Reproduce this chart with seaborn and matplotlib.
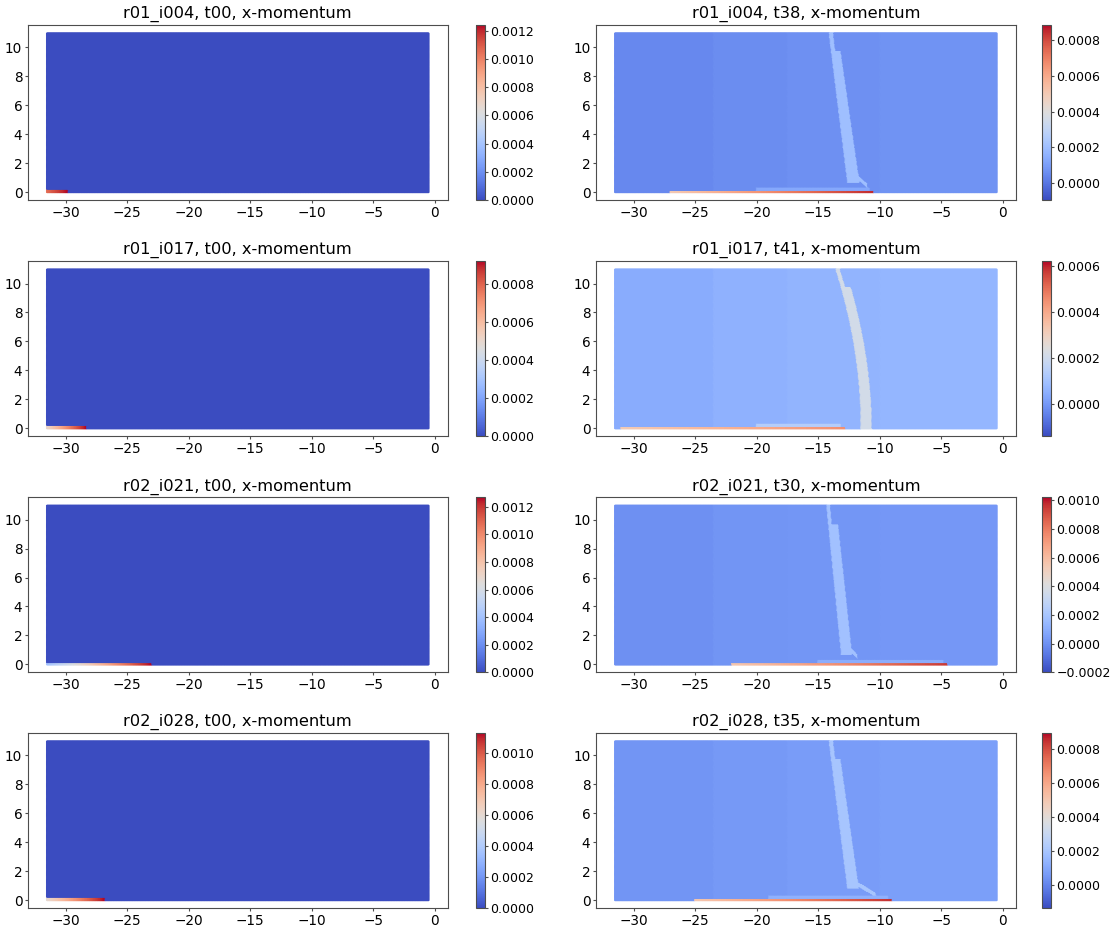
import numpy as np
import pandas as pd
import matplotlib
matplotlib.use("Agg")
import matplotlib.pyplot as plt
import seaborn as sns
from matplotlib.colors import Normalize
from matplotlib.cm import ScalarMappable
from matplotlib.ticker import MultipleLocator, FuncFormatter

sns.set_theme(style="ticks", context="paper",
              rc={"axes.edgecolor": "0.3", "xtick.color": "0.3", "ytick.color": "0.3",
                  "xtick.labelcolor": "black", "ytick.labelcolor": "black",
                  "xtick.major.size": 2.5, "ytick.major.size": 2.5,
                  "xtick.major.pad": 1.6, "ytick.major.pad": 1.6,
                  "xtick.major.width": 0.8, "ytick.major.width": 0.8,
                  "axes.linewidth": 0.8, "axes.titlecolor": "black"})
plt.rcParams['font.family'] = ['DejaVu Sans']

# ---------------- data ----------------
titles = ["r01_i004, t00, x-momentum", "r01_i004, t38, x-momentum",
          "r01_i017, t00, x-momentum", "r01_i017, t41, x-momentum",
          "r02_i021, t00, x-momentum", "r02_i021, t30, x-momentum",
          "r02_i028, t00, x-momentum", "r02_i028, t35, x-momentum"]
vmins = [0.0, -0.000095, 0.0, -0.000138, 0.0, -0.0002, 0.0, -0.000135]
vmaxs = [0.00124, 0.000884, 0.00092, 0.00062, 0.00127, 0.00102, 0.00113, 0.000894]

# domain
x_left, x_right = -31.5, -0.5
y_bottom, y_top = 0.0, 11.0

# background value zones (x edges) per panel
zone_edges = [-31.5, -23.5, -17.5, -10.0, -0.5]
bg_values = [
    [0.0, 0.0, 0.0, 0.0],
    [0.000045, 0.000055, 0.000065, 0.000070],
    [0.0, 0.0, 0.0, 0.0],
    [0.000045, 0.000055, 0.000062, 0.000068],
    [0.0, 0.0, 0.0, 0.0],
    [0.000000, 0.000010, 0.000018, 0.000022],
    [0.0, 0.0, 0.0, 0.0],
    [0.000045, 0.000055, 0.000065, 0.000070],
]

# plume (descending light band) per panel; None where absent
plume_top_left = [None, -14.1, None, -13.55, None, -14.3, None, -14.1]
plume_bot_left = [None, -12.6, None, -11.5, None, -13.1, None, -12.6]
plume_top_w = [None, 0.75, None, 0.8, None, 0.8, None, 0.75]
plume_bot_w = [None, 1.0, None, 0.9, None, 0.9, None, 0.95]
plume_bot_y = [None, 0.7, None, 0.0, None, 0.7, None, 0.85]
plume_curv = [None, 1.0, None, 2.0, None, 1.0, None, 1.0]
plume_hook_y = [None, 9.8, None, 9.8, None, 9.7, None, 9.8]
plume_strand_w = [None, 0.35, None, 0.35, None, 0.3, None, 0.35]
plume_val = [None, 0.00020, None, 0.00021, None, 0.00018, None, 0.00020]
plume_foot_x = [None, -11.0, None, None, None, -11.8, None, -10.3]
plume_foot_y = [None, 0.5, None, None, None, 0.6, None, 0.4]

# bottom gravity current per panel
cur_x0 = [-31.5, -27.0, -31.5, -31.0, -31.5, -22.0, -31.5, -25.0]
cur_x1 = [-29.8, -10.5, -28.3, -12.8, -23.0, -4.5, -26.8, -9.0]
cur_v0 = [0.00105, 0.00050, 0.00050, 0.00032, 0.00040, 0.00055, 0.00060, 0.00050]
cur_v1 = [0.00124, 0.00085, 0.00092, 0.00045, 0.00127, 0.00095, 0.00113, 0.00085]
cur_depth = [0.2, 0.15, 0.2, 0.15, 0.15, 0.15, 0.2, 0.15]
# lighter mixing layer just above the current head (None where absent)
halo_x0 = [None, -20.0, None, -20.0, None, -15.0, None, -19.0]
halo_val = [None, 0.00013, None, 0.00014, None, 0.00010, None, 0.00013]

# ---------------- field construction ----------------
xs = np.round(np.arange(x_left, x_right + 1e-9, 0.05), 3)
ys = np.round(np.arange(y_bottom, y_top + 1e-9, 0.08), 3)
X, Y = np.meshgrid(xs, ys)


def build_field(i):
    val = np.zeros_like(X)
    for k in range(len(zone_edges) - 1):
        m = (X >= zone_edges[k]) & (X <= zone_edges[k + 1])
        val[m] = bg_values[i][k]
    if plume_top_left[i] is not None:
        yb = plume_bot_y[i]
        tw = np.clip((Y - yb) / (y_top - yb), 0, 1)
        t = tw ** plume_curv[i]
        le = plume_bot_left[i] + (plume_top_left[i] - plume_bot_left[i]) * t
        w = plume_bot_w[i] + (plume_top_w[i] - plume_bot_w[i]) * tw
        hy = plume_hook_y[i]
        band = (X >= le) & (X <= le + w) & (Y >= yb) & (Y <= hy)
        strand = (X >= le) & (X <= le + plume_strand_w[i]) & (Y > hy)
        val[band | strand] = plume_val[i]
        if plume_foot_x[i] is not None:
            rx = plume_bot_left[i] + plume_bot_w[i]
            fx, fy = plume_foot_x[i], plume_foot_y[i]
            line_y = (yb + 0.25) + (fy - (yb + 0.25)) * (X - rx) / (fx - rx)
            foot = (X >= rx - 0.3) & (X <= fx) & (np.abs(Y - line_y) <= 0.15)
            val[foot] = plume_val[i]
    if halo_x0[i] is not None:
        hm = (Y > cur_depth[i]) & (Y <= cur_depth[i] + 0.2) & \
             (X >= halo_x0[i]) & (X <= cur_x1[i] - 0.3)
        val[hm] = halo_val[i]
    cm = (Y <= cur_depth[i]) & (X >= cur_x0[i]) & (X <= cur_x1[i])
    frac = (X - cur_x0[i]) / (cur_x1[i] - cur_x0[i])
    val[cm] = (cur_v0[i] + (cur_v1[i] - cur_v0[i]) * frac)[cm]
    return val


def cb_fmt(v, pos):
    if abs(v) < 1e-12:
        v = 0.0
    return f"{v:.4f}".replace("-", "\u2212")


# ---------------- figure ----------------
fig = plt.figure(figsize=(11.1, 9.26), dpi=100)
col_x = [0.0252, 0.537]
cb_x = [0.4288, 0.9387]
row_y = [0.784, 0.529, 0.274, 0.0194]
ax_w, ax_h, cb_w = 0.378, 0.189, 0.0080

for i in range(8):
    r, c = divmod(i, 2)
    ax = fig.add_axes([col_x[c], row_y[r], ax_w, ax_h])
    cax = fig.add_axes([cb_x[c], row_y[r], cb_w, ax_h])
    field = build_field(i)
    df = pd.DataFrame({"x": X.ravel(), "y": Y.ravel(), "v": field.ravel()})
    norm = Normalize(vmins[i], vmaxs[i])
    sns.scatterplot(data=df, x="x", y="y", hue="v", palette="coolwarm",
                    hue_norm=norm, s=2.5, linewidth=0, legend=False, ax=ax)
    ax.set_xlabel("")
    ax.set_ylabel("")
    ax.set_xticks([-30, -25, -20, -15, -10, -5, 0])
    ax.set_yticks([0, 2, 4, 6, 8, 10])
    ax.set_xlim(-33.05, 1.05)
    ax.set_ylim(-0.55, 11.55)
    ax.tick_params(labelsize=9.8)
    ax.set_title(titles[i], fontsize=11.7, pad=5)
    cb = fig.colorbar(ScalarMappable(norm=norm, cmap="coolwarm"), cax=cax)
    cb.outline.set_edgecolor("0.3")
    cb.outline.set_linewidth(0.8)
    cax.yaxis.set_major_locator(MultipleLocator(0.0002))
    cax.yaxis.set_major_formatter(FuncFormatter(cb_fmt))
    cax.tick_params(labelsize=9.0, length=2.5, pad=1.6)

fig.savefig("out.png", dpi=100)
